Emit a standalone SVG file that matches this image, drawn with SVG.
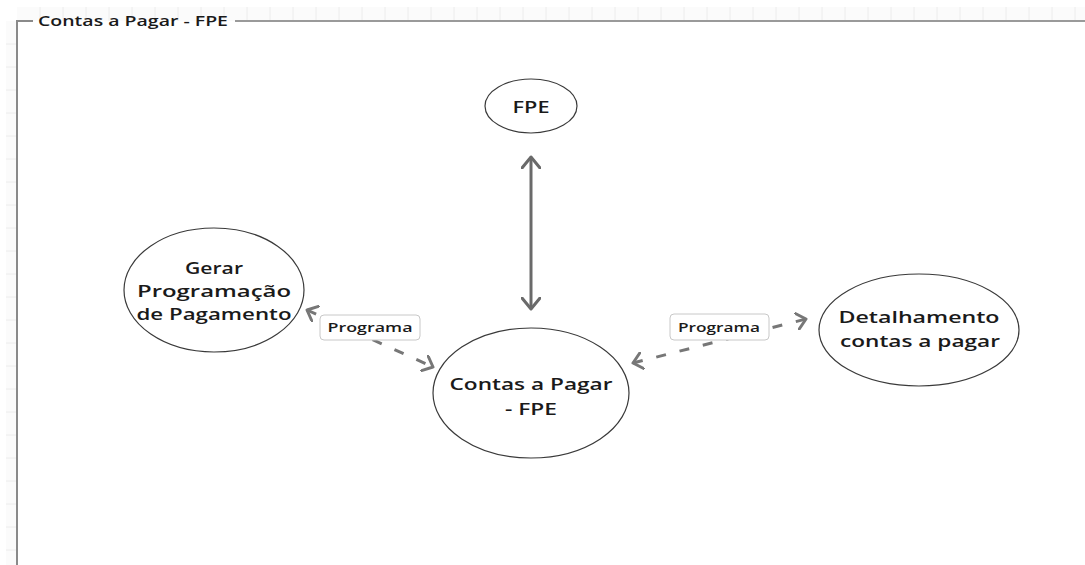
<svg xmlns="http://www.w3.org/2000/svg" width="1085" height="565" viewBox="0 0 1085 565">
<style>
.node ellipse{fill:#fff;stroke:#3a3a3a;stroke-width:1.2}
.t{font-family:"Open Sans","DejaVu Sans","Liberation Sans",sans-serif;font-weight:600;fill:#1a1a1a;text-anchor:middle;font-size:17px}
.lbl rect{fill:#fff;stroke:#c8c8c8;stroke-width:1}
.lt{font-family:"Open Sans","DejaVu Sans","Liberation Sans",sans-serif;font-weight:600;fill:#1a1a1a;text-anchor:middle;font-size:13px}
.solid{stroke:#6a6a6a;stroke-width:3;fill:none}
.dash{stroke:#777;stroke-width:3;fill:none;stroke-dasharray:10 14}
.grid{stroke:#ececec;stroke-width:1}
</style>
<defs>
<marker id="chev" viewBox="0 0 14 20" refX="12" refY="10" markerWidth="14" markerHeight="20" markerUnits="userSpaceOnUse" orient="auto-start-reverse">
<path d="M1,1 L12,10 L1,19" fill="none" stroke="#6a6a6a" stroke-width="3" stroke-linecap="round" stroke-linejoin="round"/>
</marker>
<marker id="chev2" viewBox="0 0 12 18" refX="10" refY="9" markerWidth="12" markerHeight="18" markerUnits="userSpaceOnUse" orient="auto-start-reverse">
<path d="M1,1 L10,9 L1,17" fill="none" stroke="#777" stroke-width="3" stroke-linecap="round" stroke-linejoin="round"/>
</marker>
</defs>
<rect width="1085" height="565" fill="#fff"/>
<g id="grid">
<rect x="17" y="7" width="1068" height="14" fill="#fbfbfb"/>
<rect x="6" y="21" width="11" height="544" fill="#fbfbfb"/>
<path class="grid" d="M40,7V21M63,7V21M86,7V21M109,7V21M132,7V21M155,7V21M178,7V21M201,7V21M224,7V21M247,7V21M270,7V21M293,7V21M316,7V21M339,7V21M362,7V21M385,7V21M408,7V21M431,7V21M454,7V21M477,7V21M500,7V21M523,7V21M546,7V21M569,7V21M592,7V21M615,7V21M638,7V21M661,7V21M684,7V21M707,7V21M730,7V21M753,7V21M776,7V21M799,7V21M822,7V21M845,7V21M868,7V21M891,7V21M914,7V21M937,7V21M960,7V21M983,7V21M1006,7V21M1029,7V21M1052,7V21M1075,7V21"/>
<path class="grid" d="M6,44H17M6,67H17M6,90H17M6,113H17M6,136H17M6,159H17M6,182H17M6,205H17M6,228H17M6,251H17M6,274H17M6,297H17M6,320H17M6,343H17M6,366H17M6,389H17M6,412H17M6,435H17M6,458H17M6,481H17M6,504H17M6,527H17M6,550H17"/>
</g>
<g id="frame">
<path d="M33,21H17V565" fill="none" stroke="#8a8a8a" stroke-width="2"/>
<path d="M235,21H1085" fill="none" stroke="#9a9a9a" stroke-width="2"/>
<text x="133" y="26" class="t" style="font-size:15px" textLength="190" lengthAdjust="spacingAndGlyphs">Contas a Pagar - FPE</text>
</g>
<g id="connectors">
<line class="solid" x1="531" y1="157" x2="531" y2="309" marker-start="url(#chev)" marker-end="url(#chev)"/>
<line class="dash" x1="307" y1="310" x2="433" y2="367" marker-start="url(#chev2)" marker-end="url(#chev2)"/>
<line class="dash" x1="633" y1="363" x2="806" y2="319" marker-start="url(#chev2)" marker-end="url(#chev2)"/>
<g class="lbl" id="label-left">
<rect x="320" y="315" width="100" height="25" rx="4"/>
<text class="lt" x="370" y="332" textLength="85" lengthAdjust="spacingAndGlyphs">Programa</text>
</g>
<g class="lbl" id="label-right">
<rect x="670" y="314" width="99" height="26" rx="4"/>
<text class="lt" x="719" y="332" textLength="82" lengthAdjust="spacingAndGlyphs">Programa</text>
</g>
</g>
<g class="node" id="node-fpe">
<ellipse cx="531" cy="106" rx="46" ry="27"/>
<text class="t" x="531" y="113" textLength="37" lengthAdjust="spacingAndGlyphs">FPE</text>
</g>
<g class="node" id="node-gerar">
<ellipse cx="214" cy="290" rx="90" ry="62"/>
<text class="t" x="214" y="274" textLength="58" lengthAdjust="spacingAndGlyphs">Gerar</text>
<text class="t" x="214" y="297" textLength="154" lengthAdjust="spacingAndGlyphs">Programação</text>
<text class="t" x="214" y="320" textLength="155" lengthAdjust="spacingAndGlyphs">de Pagamento</text>
</g>
<g class="node" id="node-contas">
<ellipse cx="531" cy="393" rx="98" ry="65"/>
<text class="t" x="531" y="390" textLength="163" lengthAdjust="spacingAndGlyphs">Contas a Pagar</text>
<text class="t" x="531" y="415" textLength="52" lengthAdjust="spacingAndGlyphs">- FPE</text>
</g>
<g class="node" id="node-detalhamento">
<ellipse cx="919" cy="330" rx="100" ry="56"/>
<text class="t" x="919" y="323" textLength="161" lengthAdjust="spacingAndGlyphs">Detalhamento</text>
<text class="t" x="920" y="347" textLength="160" lengthAdjust="spacingAndGlyphs">contas a pagar</text>
</g>
</svg>
